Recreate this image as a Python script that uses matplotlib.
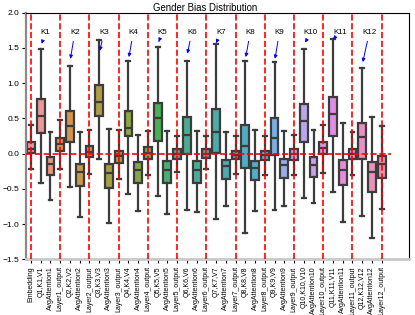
import matplotlib
matplotlib.use('Agg')
import matplotlib.pyplot as plt
import seaborn as sns

categories = ['Embedding',
              'Q1,K1,V1', 'AvgAttention1', 'Layer1_output',
              'Q2,K2,V2', 'AvgAttention2', 'Layer2_output',
              'Q3,K3,V3', 'AvgAttention3', 'Layer3_output',
              'Q4,K4,V4', 'AvgAttention4', 'Layer4_output',
              'Q5,K5,V5', 'AvgAttention5', 'Layer5_output',
              'Q6,K6,V6', 'AvgAttention6', 'Layer6_output',
              'Q7,K7,V7', 'AvgAttention7', 'Layer7_output',
              'Q8,K8,V8', 'AvgAttention8', 'Layer8_output',
              'Q9,K9,V9', 'AvgAttention9', 'Layer9_output',
              'Q10,K10,V10', 'AvgAttention10', 'Layer10_output',
              'Q11,K11,V11', 'AvgAttention11', 'Layer11_output',
              'Q12,K12,V12', 'AvgAttention12', 'Layer12_output']

whisker_high = [0.40,
                1.49, 0.30, 0.48,
                1.24, 0.30, 0.34,
                1.61, 0.35, 0.33,
                1.31, 0.27, 0.32,
                1.51, 0.32, 0.25,
                1.32, 0.32, 0.25,
                1.55, 0.31, 0.25,
                1.32, 0.34, 0.25,
                1.30, 0.32, 0.27,
                1.49, 0.33, 0.41,
                1.62, 0.44, 0.30,
                1.22, 0.515, 0.39]
upper_quartile = [0.17,
                  0.775, -0.05, 0.22,
                  0.60, -0.15, 0.11,
                  0.98, -0.15, 0.04,
                  0.605, -0.12, 0.09,
                  0.72, -0.11, 0.06,
                  0.52, -0.11, 0.06,
                  0.63, -0.09, 0.04,
                  0.41, -0.11, 0.04,
                  0.50, -0.075, 0.06,
                  0.70, -0.05, 0.16,
                  0.81, -0.09, 0.07,
                  0.44, -0.12, -0.04]
medians = [0.07,
           0.54, -0.14, 0.14,
           0.39, -0.26, 0.03,
           0.73, -0.28, -0.03,
           0.37, -0.23, 0.005,
           0.50, -0.23, -0.005,
           0.265, -0.23, 0.0,
           0.31, -0.17, -0.015,
           0.11, -0.21, -0.02,
           0.22, -0.16, -0.01,
           0.46, -0.16, 0.075,
           0.56, -0.23, 0.0,
           0.23, -0.26, -0.14]
lower_quartile = [0.015,
                  0.29, -0.30, 0.04,
                  0.16, -0.46, -0.05,
                  0.54, -0.49, -0.13,
                  0.255, -0.41, -0.075,
                  0.175, -0.42, -0.075,
                  0.0, -0.41, -0.066,
                  0.005, -0.36, -0.08,
                  -0.21, -0.38, -0.09,
                  -0.02, -0.34, -0.09,
                  0.16, -0.33, -0.005,
                  0.255, -0.44, -0.08,
                  -0.08, -0.55, -0.35]
whisker_low = [-0.22,
               -0.42, -0.66, -0.22,
               -0.48, -0.90, -0.29,
               -0.08, -0.99, -0.36,
               -0.57, -0.81, -0.30,
               -0.60, -0.85, -0.26,
               -0.80, -0.83, -0.22,
               -0.93, -0.74, -0.29,
               -1.13, -0.81, -0.30,
               -0.80, -0.74, -0.30,
               -0.63, -0.70, -0.27,
               -0.55, -0.97, -0.31,
               -0.88, -1.20, -0.79]

k_labels = ['K1', 'K2', 'K3', 'K4', 'K5', 'K6', 'K7', 'K8', 'K9', 'K10', 'K11', 'K12']
k_categories = ['Q1,K1,V1', 'Q2,K2,V2', 'Q3,K3,V3', 'Q4,K4,V4', 'Q5,K5,V5', 'Q6,K6,V6',
                'Q7,K7,V7', 'Q8,K8,V8', 'Q9,K9,V9', 'Q10,K10,V10', 'Q11,K11,V11', 'Q12,K12,V12']
k_arrow_tip = [1.52, 1.305, 1.42, 1.33, 1.55, 1.38, 1.566, 1.33, 1.305, 1.54, 1.62, 1.26]
k_text_y = 1.7

separator_categories = ['Embedding'] + [f'Layer{i}_output' for i in range(1, 13)]

plt.rcParams['font.family'] = ['Liberation Sans', 'DejaVu Sans']

fig = plt.figure(figsize=(4.15, 3.15), dpi=100)
ax = fig.add_axes([0.063, 0.1765, 0.9225, 0.7835])

n = len(categories)
pos = list(range(n))
stats = []
for i in range(n):
    stats.append(dict(med=medians[i], q1=lower_quartile[i], q3=upper_quartile[i],
                      whislo=whisker_low[i], whishi=whisker_high[i], fliers=[]))

pal = [sns.desaturate(c, 0.75) for c in sns.husl_palette(n, l=.7)]
line_c = '#3c3c3c'
bp = ax.bxp(stats, positions=pos, widths=0.8, patch_artist=True, showfliers=False,
            boxprops=dict(edgecolor=line_c, linewidth=1.6),
            medianprops=dict(color=line_c, linewidth=1.6),
            whiskerprops=dict(color=line_c, linewidth=1.6),
            capprops=dict(color=line_c, linewidth=1.6),
            capwidths=0.4)
for patch, c in zip(bp['boxes'], pal):
    patch.set_facecolor(c)

for cat in separator_categories:
    ax.axvline(categories.index(cat), color='red', linestyle='--', linewidth=1.2, zorder=5)
ax.plot([-0.5, 37], [0, 0], color='red', linestyle='--', linewidth=1.2, zorder=5)

for lab, cat, tip in zip(k_labels, k_categories, k_arrow_tip):
    xi = categories.index(cat)
    ax.annotate(lab, xy=(xi, tip), xytext=(xi, k_text_y), fontsize=5.8,
                arrowprops=dict(arrowstyle='-|>', color='blue', lw=0.7, mutation_scale=5))

ax.set_xlim(-0.5, 38.8)
ax.set_ylim(-1.5, 2.0)
ax.set_xticks(pos)
ax.set_xticklabels(categories, rotation=90, fontsize=5)
ax.set_yticks([-1.5, -1.0, -0.5, 0.0, 0.5, 1.0, 1.5, 2.0])
ax.tick_params(axis='y', labelsize=6, length=3, width=0.8, pad=2)
ax.tick_params(axis='x', length=3, width=0.8, pad=2)
ax.spines['left'].set_color('#8a8a8a')
ax.spines['left'].set_linewidth(1.6)
ax.spines['bottom'].set_color('#c8c8c8')
ax.spines['bottom'].set_linewidth(2)
ax.set_title('Gender Bias Distribution', fontsize=6.9, pad=1.5, x=0.467)

fig.savefig('out.png', dpi=100)
